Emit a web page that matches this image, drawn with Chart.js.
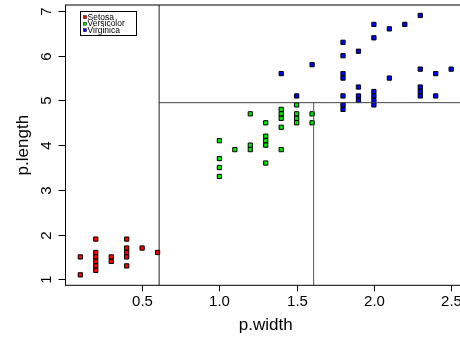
<!DOCTYPE html>
<html>
<head>
<meta charset="utf-8">
<script src="https://cdn.jsdelivr.net/npm/chart.js@4/dist/chart.umd.min.js"></script>
<style>
    html, body { margin: 0; padding: 0; background: #fff; overflow: hidden; }
    #wrap { width: 460px; height: 338px; overflow: hidden; }
</style>
</head>
<body>
<div id="wrap"><canvas id="irisChart" width="480" height="338"></canvas></div>
<script>
//#region Data

const speciesNames = ['Setosa', 'Versicolor', 'Virginica'];
const speciesColors = ['#FF0000', '#00E600', '#0000FF'];

// Setosa points (petal width, petal length).
const setosaWidth  = [0.1, 0.1, 0.2, 0.2, 0.2, 0.2, 0.2, 0.2, 0.3, 0.3, 0.4, 0.4, 0.4, 0.4, 0.4, 0.5, 0.6];
const setosaLength = [1.5, 1.1, 1.9, 1.6, 1.5, 1.4, 1.3, 1.2, 1.5, 1.4, 1.9, 1.7, 1.6, 1.5, 1.3, 1.7, 1.6];

// Versicolor points.
const versicolorWidth  = [1.0, 1.0, 1.0, 1.0, 1.1, 1.2, 1.2, 1.2, 1.3, 1.3, 1.3, 1.3, 1.3,
                          1.4, 1.4, 1.4, 1.4, 1.4, 1.5, 1.5, 1.5, 1.5, 1.6, 1.6];
const versicolorLength = [4.1, 3.7, 3.5, 3.3, 3.9, 4.7, 4.0, 3.9, 4.5, 4.2, 4.1, 4.0, 3.6,
                          4.8, 4.7, 4.6, 4.4, 3.9, 4.9, 4.7, 4.6, 4.5, 4.7, 4.5];

// Virginica points.
const virginicaWidth  = [1.4, 1.5, 1.6, 1.8, 1.8, 1.8, 1.8, 1.8, 1.8, 1.8, 1.9, 1.9, 1.9, 1.9,
                         2.0, 2.0, 2.0, 2.0, 2.0, 2.0, 2.1, 2.1, 2.2, 2.3, 2.3, 2.3, 2.3, 2.3,
                         2.4, 2.4, 2.5];
const virginicaLength = [5.6, 5.1, 5.8, 6.3, 6.0, 5.6, 5.5, 5.1, 4.9, 4.8, 6.1, 5.3, 5.1, 5.0,
                         6.7, 6.4, 5.2, 5.1, 5.0, 4.9, 6.6, 5.5, 6.7, 6.9, 5.7, 5.3, 5.2, 5.1,
                         5.6, 5.1, 5.7];

// Tree partition splits.
const splitWidthA = 0.61;
const splitLength = 4.95;
const splitWidthB = 1.61;

// Axis ranges and ticks.
const xRange = [0.004, 2.596];
const yRange = [0.866, 7.134];
const xTicks = [0.5, 1.0, 1.5, 2.0, 2.5];
const yTicks = [1, 2, 3, 4, 5, 6, 7];

//#endregion

//#region Chart

const FONT = '"Liberation Sans", Arial, Helvetica, sans-serif';

function toPoints(xs, ys) {
    return xs.map((x, i) => ({ x: x, y: ys[i] }));
}

function pointSet(name, xs, ys, color) {
    return {
        label: name,
        data: toPoints(xs, ys),
        backgroundColor: color,
        borderColor: '#000',
        borderWidth: 1,
        pointStyle: 'rect',
        pointRadius: 3,
        showLine: false,
        order: 2
    };
}

function splitLine(pts, color) {
    return {
        label: '',
        data: pts,
        showLine: true,
        borderColor: color,
        borderWidth: 1,
        pointRadius: 0,
        fill: false,
        order: 1
    };
}

// R-like box, ticks, titles and legend.
const rStylePlugin = {
    id: 'rStyle',
    afterDraw(chart) {
        const ctx = chart.ctx;
        const a = chart.chartArea;
        const xs = chart.scales.x;
        const ys = chart.scales.y;
        ctx.save();
        ctx.strokeStyle = '#000';
        ctx.lineWidth = 1;
        ctx.strokeRect(a.left, a.top, a.right - a.left, a.bottom - a.top);

        ctx.fillStyle = '#000';
        ctx.font = '15px ' + FONT;
        ctx.textAlign = 'center';
        ctx.textBaseline = 'middle';
        xTicks.forEach(v => {
            const px = Math.round(xs.getPixelForValue(v)) + 0.5;
            ctx.beginPath();
            ctx.moveTo(px, a.bottom);
            ctx.lineTo(px, a.bottom + 6);
            ctx.stroke();
            ctx.fillText(v.toFixed(1), px, a.bottom + 17);
        });
        yTicks.forEach(v => {
            const py = Math.round(ys.getPixelForValue(v)) + 0.5;
            ctx.beginPath();
            ctx.moveTo(a.left - 7, py);
            ctx.lineTo(a.left, py);
            ctx.stroke();
            ctx.save();
            ctx.translate(47, py);
            ctx.rotate(-Math.PI / 2);
            ctx.fillText(String(v), 0, 0);
            ctx.restore();
        });

        // Axis titles.
        ctx.font = '17px ' + FONT;
        ctx.fillText('p.width', (a.left + a.right) / 2, 325);
        ctx.save();
        ctx.translate(23, (a.top + a.bottom) / 2);
        ctx.rotate(-Math.PI / 2);
        ctx.fillText('p.length', 0, 0);
        ctx.restore();

        // Legend.
        const lx = 80.5, ly = 11.5;
        ctx.strokeRect(lx, ly, 56, 24);
        ctx.font = '8.5px ' + FONT;
        ctx.textAlign = 'left';
        speciesNames.forEach((name, i) => {
            const cy = ly + 5.7 + i * 6.5;
            ctx.fillStyle = speciesColors[i];
            ctx.fillRect(lx + 3, cy - 1.5, 3, 3);
            ctx.strokeStyle = '#000';
            ctx.lineWidth = 0.5;
            ctx.strokeRect(lx + 3, cy - 1.5, 3, 3);
            ctx.fillStyle = '#000';
            ctx.fillText(name, lx + 7, cy);
        });
        ctx.restore();
    }
};

function Initialize_IrisChart(chartID) {

    const data = {
        datasets: [
            pointSet(speciesNames[0], setosaWidth, setosaLength, speciesColors[0]),
            pointSet(speciesNames[1], versicolorWidth, versicolorLength, speciesColors[1]),
            pointSet(speciesNames[2], virginicaWidth, virginicaLength, speciesColors[2]),
            splitLine([{ x: splitWidthA, y: yRange[0] }, { x: splitWidthA, y: yRange[1] }], '#222'),
            splitLine([{ x: splitWidthA, y: splitLength }, { x: xRange[1], y: splitLength }], '#444'),
            splitLine([{ x: splitWidthB, y: yRange[0] }, { x: splitWidthB, y: splitLength }], '#555')
        ]
    };

    const ctx = document.getElementById(chartID);

    const config = {
        type: 'scatter',
        data: data,
        options: {
            animation: false,
            responsive: false,
            devicePixelRatio: 1,
            layout: {
                padding: { left: 65.5, top: 5, right: 14, bottom: 52.7 }
            },
            plugins: {
                legend: { display: false },
                tooltip: { enabled: false }
            },
            scales: {
                x: { type: 'linear', display: false, min: xRange[0], max: xRange[1] },
                y: { type: 'linear', display: false, min: yRange[0], max: yRange[1] }
            }
        },
        plugins: [rStylePlugin]
    };

    return new Chart(ctx, config);
}

Initialize_IrisChart('irisChart');

//#endregion
</script>
</body>
</html>
